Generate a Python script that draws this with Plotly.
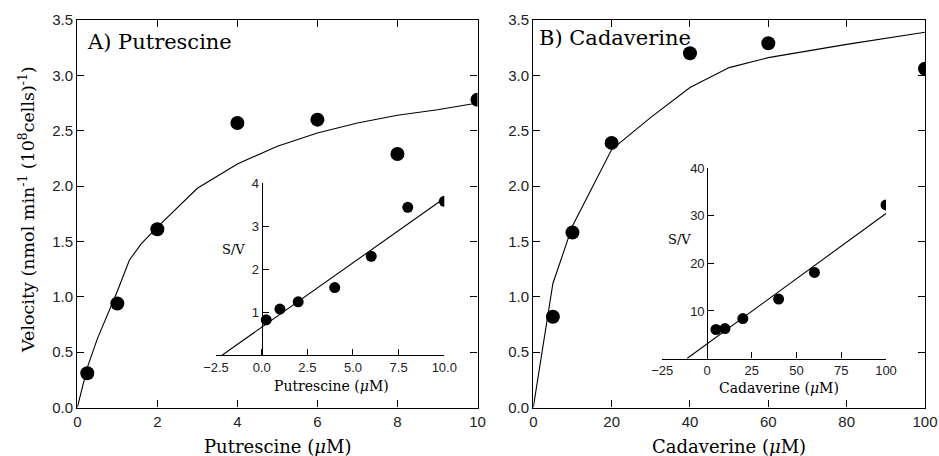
import plotly.graph_objects as go

W, H = 939, 456

# ---- Panel A: Putrescine ----
put_x = [0.25, 1, 2, 4, 6, 8, 10]
put_v = [0.31, 0.94, 1.61, 2.57, 2.60, 2.29, 2.78]
put_fit_x = [0, 0.25, 0.5, 1, 1.3, 1.6, 2, 3, 4, 5, 6, 7, 8, 9, 10]
put_fit_v = [0, 0.36, 0.62, 1.05, 1.33, 1.48, 1.63, 1.98, 2.20, 2.36, 2.48, 2.57, 2.64, 2.69, 2.75]
put_inset_x = [0.25, 1, 2, 4, 6, 8, 10]
put_inset_sv = [0.82, 1.07, 1.24, 1.57, 2.30, 3.44, 3.58]
put_line_x = [-2.15, 10]
put_line_sv = [0.0, 3.65]

# ---- Panel B: Cadaverine ----
cad_x = [5, 10, 20, 40, 60, 100]
cad_v = [0.82, 1.58, 2.39, 3.20, 3.29, 3.06]
cad_fit_x = [0, 5, 10, 20, 30, 40, 50, 60, 80, 100]
cad_fit_v = [0, 1.12, 1.64, 2.33, 2.62, 2.89, 3.07, 3.16, 3.28, 3.39]
cad_inset_x = [5, 10, 20, 40, 60, 100]
cad_inset_sv = [6.1, 6.3, 8.4, 12.5, 18.1, 32.3]
cad_line_x = [-11.2, 100]
cad_line_sv = [0.0, 30.5]

main_xticks_a = [0, 2, 4, 6, 8, 10]
main_xticks_b = [0, 20, 40, 60, 80, 100]
main_yticks = [0.0, 0.5, 1.0, 1.5, 2.0, 2.5, 3.0, 3.5]
inset_a_xticks = [-2.5, 0.0, 2.5, 5.0, 7.5, 10.0]
inset_a_yticks = [1, 2, 3, 4]
inset_b_xticks = [-25, 0, 25, 50, 75, 100]
inset_b_yticks = [10, 20, 30, 40]


def px(x):
    return x / W


def py(y):
    return 1 - y / H


TICKF = dict(family="Liberation Sans", size=15, color="#222")
INTF = dict(family="Liberation Sans", size=13, color="#222")
SERIF = "DejaVu Serif"

fig = go.Figure()

# main traces
fig.add_trace(go.Scatter(x=put_fit_x, y=put_fit_v, mode="lines",
                         line=dict(color="black", width=1.1), xaxis="x", yaxis="y"))
fig.add_trace(go.Scatter(x=put_x, y=put_v, mode="markers",
                         marker=dict(color="black", size=14), xaxis="x", yaxis="y"))
fig.add_trace(go.Scatter(x=cad_fit_x, y=cad_fit_v, mode="lines",
                         line=dict(color="black", width=1.1), xaxis="x2", yaxis="y2"))
fig.add_trace(go.Scatter(x=cad_x, y=cad_v, mode="markers",
                         marker=dict(color="black", size=14), xaxis="x2", yaxis="y2"))
# insets
fig.add_trace(go.Scatter(x=put_line_x, y=put_line_sv, mode="lines",
                         line=dict(color="black", width=1.1), xaxis="x3", yaxis="y3"))
fig.add_trace(go.Scatter(x=put_inset_x, y=put_inset_sv, mode="markers",
                         marker=dict(color="black", size=11), xaxis="x3", yaxis="y3"))
fig.add_trace(go.Scatter(x=cad_line_x, y=cad_line_sv, mode="lines",
                         line=dict(color="black", width=1.1), xaxis="x4", yaxis="y4"))
fig.add_trace(go.Scatter(x=cad_inset_x, y=cad_inset_sv, mode="markers",
                         marker=dict(color="black", size=11), xaxis="x4", yaxis="y4"))

main_ax = dict(showline=True, linecolor="black", linewidth=1.3, mirror="ticks",
               ticks="inside", ticklen=7, tickwidth=1.2, tickcolor="black",
               showgrid=False, zeroline=False, tickfont=TICKF, automargin=False)

# main domains
ax_top, ax_bot = 20, 407.5
fig.update_layout(
    xaxis=dict(main_ax, domain=[px(77.3), px(477.5)], range=[0, 10],
               tickvals=main_xticks_a, anchor="y"),
    yaxis=dict(main_ax, domain=[py(ax_bot), py(ax_top)], range=[0, 3.5],
               tickvals=main_yticks, tickformat=".1f", anchor="x"),
    xaxis2=dict(main_ax, domain=[px(533.3), px(925)], range=[0, 100],
                tickvals=main_xticks_b, anchor="y2"),
    yaxis2=dict(main_ax, domain=[py(ax_bot), py(ax_top)], range=[0, 3.5],
                tickvals=main_yticks, tickformat=".1f", anchor="x2"),
)

ins_ax = dict(showline=True, linecolor="black", linewidth=1.2, mirror=False,
              ticks="inside", ticklen=6, tickwidth=1.1, tickcolor="black",
              showgrid=False, zeroline=False, tickfont=INTF, automargin=False)

fig.update_layout(
    xaxis3=dict(ins_ax, domain=[px(216), px(444.3)], range=[-2.5, 10],
                tickvals=inset_a_xticks, tickformat=".1f", anchor="y3"),
    yaxis3=dict(ins_ax, domain=[py(355), py(183.3)], range=[0, 4],
                tickvals=inset_a_yticks, anchor="free", position=px(261.7)),
    xaxis4=dict(ins_ax, domain=[px(662.3), px(886)], range=[-25, 100],
                tickvals=inset_b_xticks, anchor="y4"),
    yaxis4=dict(ins_ax, domain=[py(358.5), py(168.3)], range=[0, 40],
                tickvals=inset_b_yticks, anchor="free", position=px(707.3)),
)

ann = []


def add_text(text, x, y, size, xanchor="center", yanchor="middle", angle=0):
    ann.append(dict(text=text, x=px(x), y=py(y), xref="paper", yref="paper",
                    showarrow=False, xanchor=xanchor, yanchor=yanchor,
                    textangle=angle,
                    font=dict(family=SERIF, size=size, color="black")))


add_text("A) Putrescine", 85, 42, 21, xanchor="left")
add_text("B) Cadaverine", 537, 38, 21, xanchor="left")
add_text("Putrescine (<i>μ</i>M)", 277, 446, 18)
add_text("Cadaverine (<i>μ</i>M)", 729, 446, 18)
add_text("Velocity (nmol min<sup>-1</sup> (10<sup>8</sup>cells)<sup>-1</sup>)", 27, 210, 17.5, angle=-90)
add_text("Putrescine (<i>μ</i>M)", 331, 386, 14)
add_text("Cadaverine (<i>μ</i>M)", 779, 388, 14)
add_text("S/V", 233, 249, 13)
add_text("S/V", 679, 239, 13)

fig.update_layout(
    template="none",
    width=W, height=H, margin=dict(l=0, r=0, t=0, b=0, autoexpand=False),
    paper_bgcolor="white", plot_bgcolor="rgba(0,0,0,0)",
    showlegend=False, annotations=ann,
)

fig.write_html("out.html")
